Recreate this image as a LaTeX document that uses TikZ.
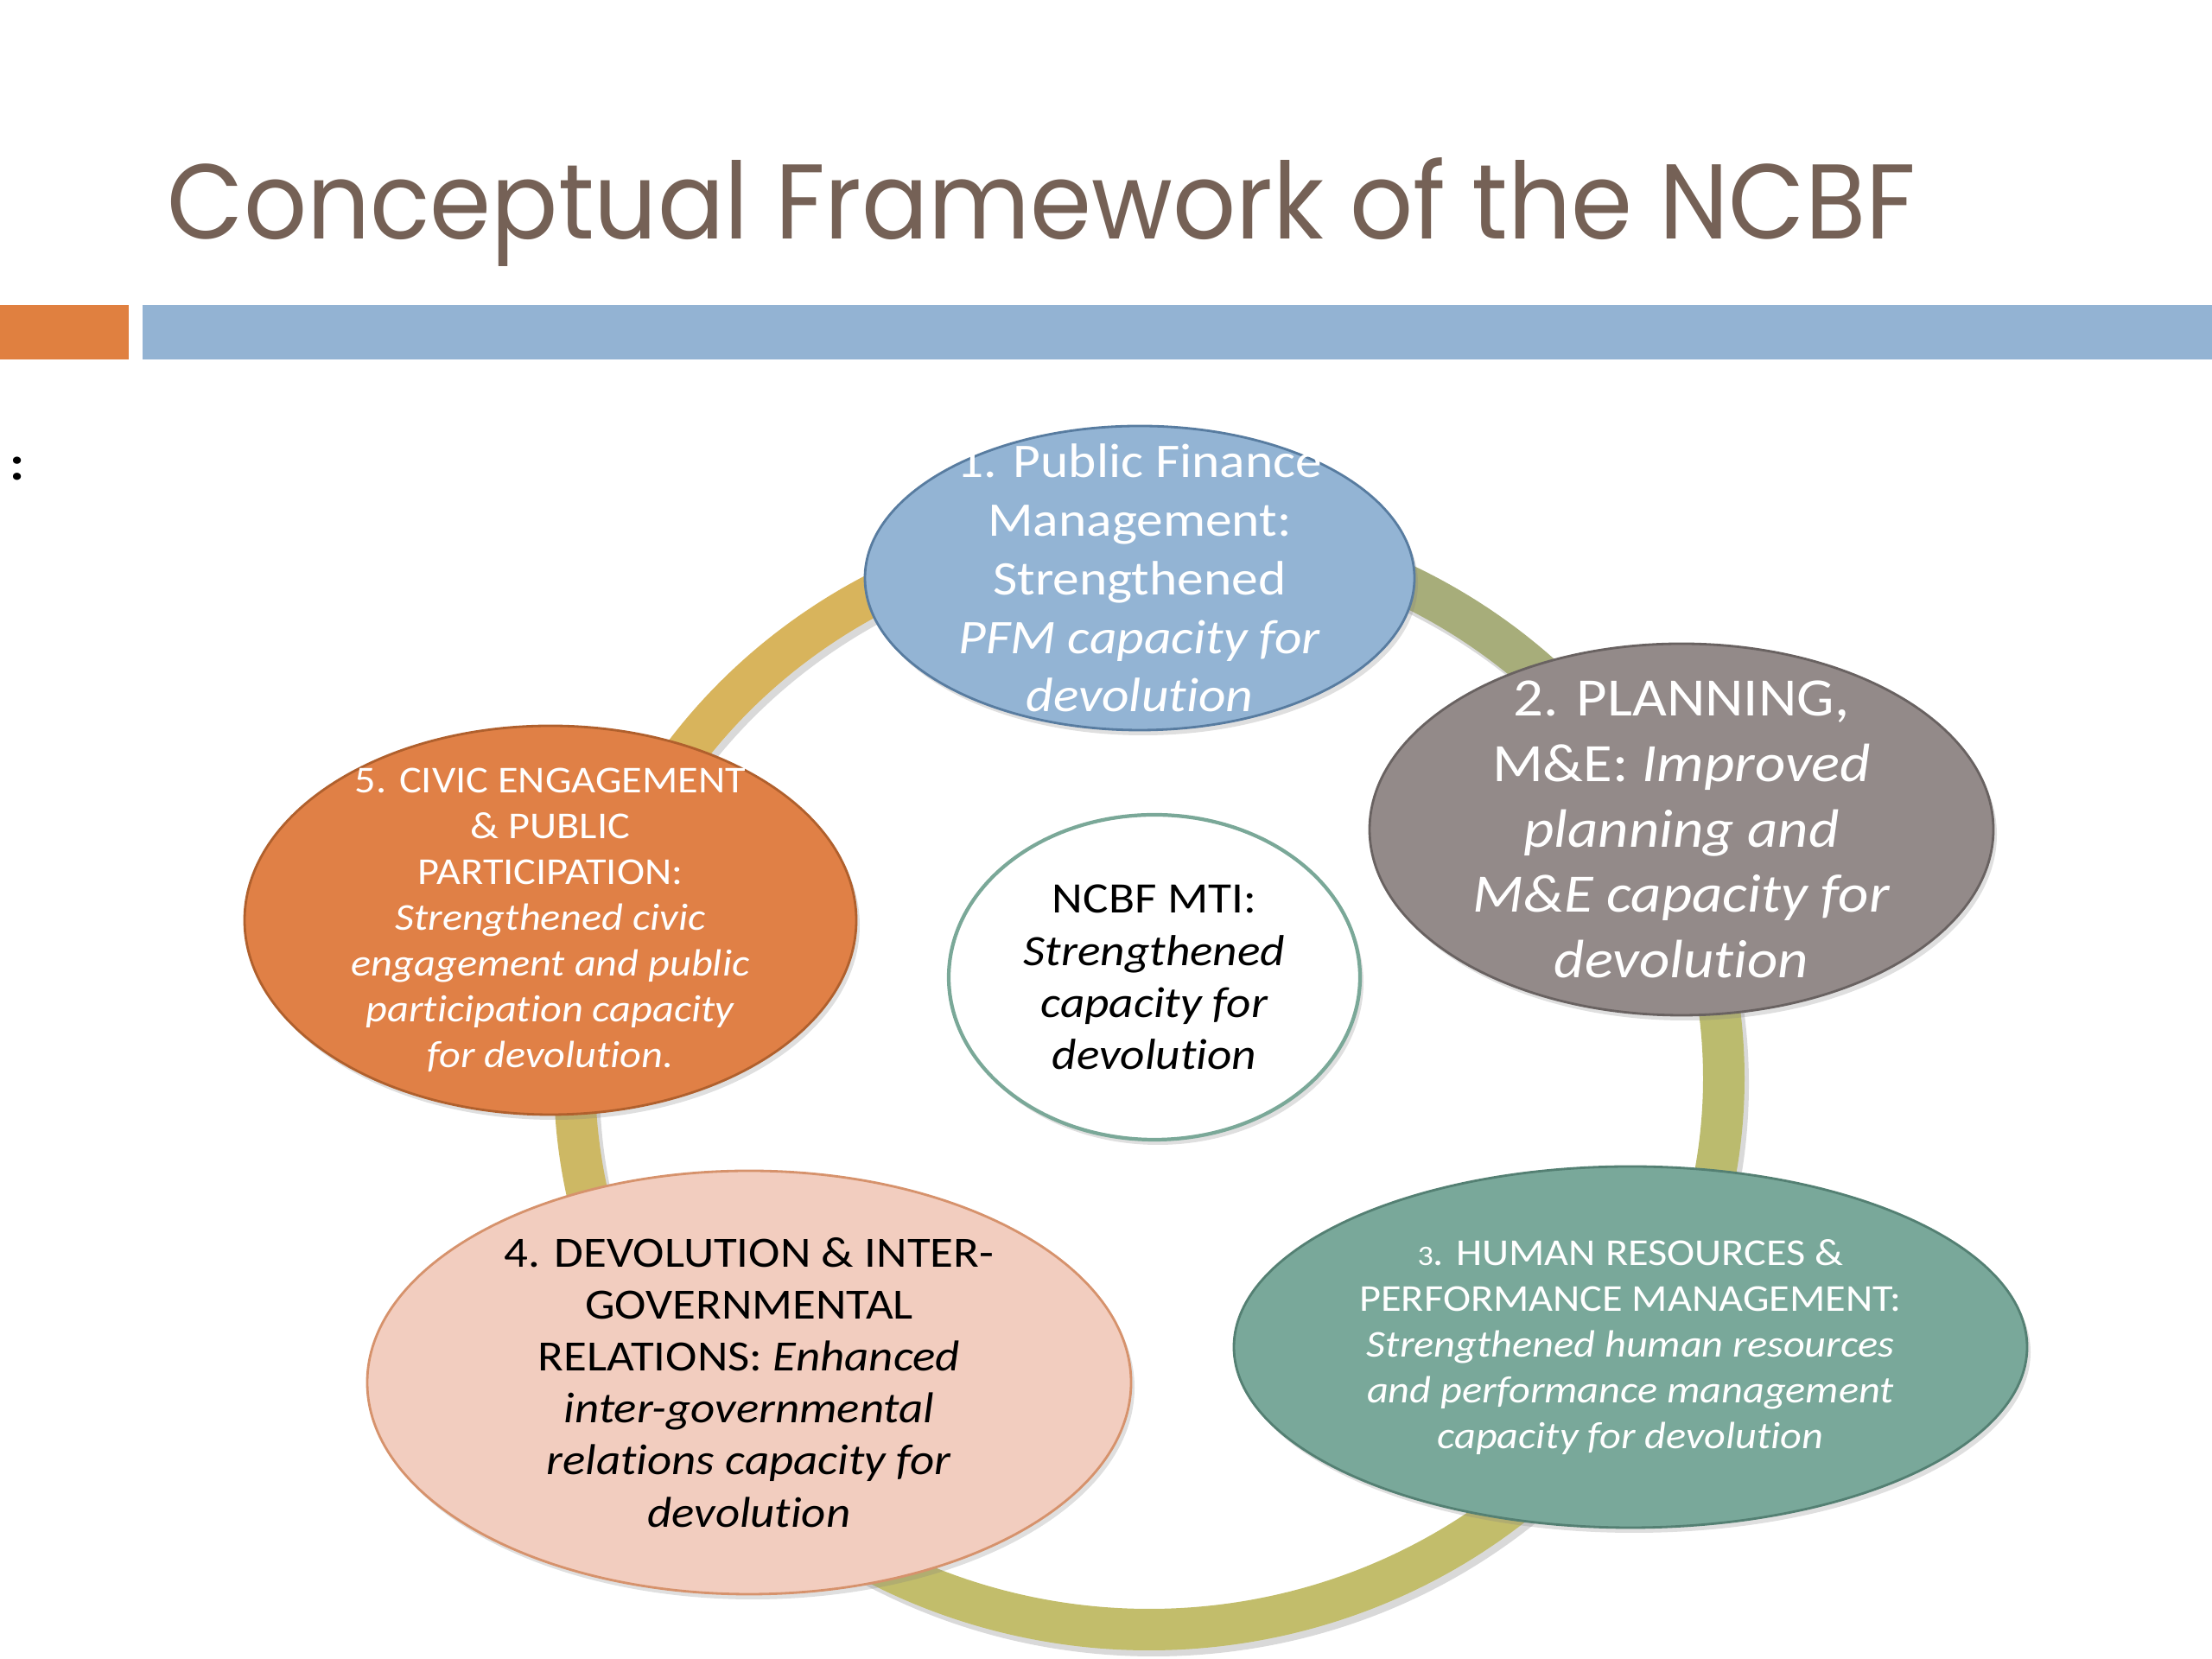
\documentclass[tikz,border=0pt]{standalone}
\usepackage{fontspec}
\setmainfont{Carlito}[FakeStretch=1.1, Ligatures=NoCommon, RawFeature={-calt;-clig}]
\newfontfamily\titlefont[FakeStretch=0.93]{Poppins}
\usetikzlibrary{shapes.geometric,shadows}

\definecolor{titlebrown}{RGB}{117,97,86}
\definecolor{barorange}{RGB}{224,128,64}
\definecolor{barblue}{RGB}{147,179,211}
\definecolor{ringgold}{RGB}{216,180,92}
\definecolor{ringgreen}{RGB}{167,173,122}
\definecolor{ringolive}{RGB}{187,187,110}
\definecolor{ringkhaki}{RGB}{194,189,107}
\definecolor{ringleft}{RGB}{205,184,100}
\definecolor{pfmblue}{RGB}{147,180,212}
\definecolor{pfmedge}{RGB}{88,124,160}
\definecolor{plangray}{RGB}{147,138,137}
\definecolor{planedge}{RGB}{105,98,97}
\definecolor{hrteal}{RGB}{121,168,154}
\definecolor{hredge}{RGB}{84,128,115}
\definecolor{igrpink}{RGB}{242,205,191}
\definecolor{igredge}{RGB}{214,146,108}
\definecolor{civicorange}{RGB}{224,128,70}
\definecolor{civicedge}{RGB}{176,96,45}
\definecolor{mtiedge}{RGB}{122,168,152}

\tikzset{
  goal/.style={ellipse, draw, line width=0.8pt, inner sep=0pt,
    drop shadow={opacity=0.25, shadow xshift=0.04cm, shadow yshift=-0.06cm}},
  goaltext/.style={align=center, inner sep=0pt},
  band/.style={line width=0.48cm},
}

\begin{document}
\begin{tikzpicture}
    \useasboundingbox (0,0) rectangle (25.6,19.2);

    % heading and bars
    \node[anchor=base west, inner sep=0pt, text=titlebrown, font=\titlefont\fontsize{35}{40}\selectfont] (title) at (1.93,16.43) {Conceptual Framework of the NCBF};
    \fill[barorange] (0,15.04) rectangle (1.49,15.67);
    \fill[barblue] (1.65,15.04) rectangle (25.6,15.67);
    \node[font=\bfseries\fontsize{16}{18}\selectfont] (colon) at (0.2,13.78) {:};

    % the ring behind the goals
    \coordinate (ring) at (13.30,6.72);
    \draw[band, black, opacity=0.15] ([shift={(0.05,-0.07)}]ring) ellipse [x radius=6.65, y radius=6.38];
    \draw[band, ringgold] ([shift={(165:6.65 and 6.38)}]ring) arc[start angle=165, end angle=90, x radius=6.65, y radius=6.38];
    \draw[band, ringgreen] ([shift={(90:6.65 and 6.38)}]ring) arc[start angle=90, end angle=25, x radius=6.65, y radius=6.38];
    \draw[band, ringolive] ([shift={(25:6.65 and 6.38)}]ring) arc[start angle=25, end angle=-29, x radius=6.65, y radius=6.38];
    \draw[band, ringkhaki] ([shift={(-29:6.65 and 6.38)}]ring) arc[start angle=-29, end angle=-143, x radius=6.65, y radius=6.38];
    \draw[band, ringleft] ([shift={(-143:6.65 and 6.38)}]ring) arc[start angle=-143, end angle=-195, x radius=6.65, y radius=6.38];

    % 1. PFM
    \node[goal, fill=pfmblue, draw=pfmedge, minimum width=6.36cm, minimum height=3.52cm] (pfm) at (13.19,12.51) {};
    \node[goaltext, text=white, font=\fontsize{15.9}{19.3}\selectfont] (pfmtext) at (pfm) {1. Public Finance\\Management:\\Strengthened\\\textit{PFM capacity for}\\\textit{devolution}};

    % 2. planning
    \node[goal, fill=plangray, draw=planedge, minimum width=7.22cm, minimum height=4.30cm] (plan) at (19.46,9.60) {};
    \node[goaltext, text=white, font=\fontsize{17.8}{21.6}\selectfont] (plantext) at (plan) {2. PLANNING,\\M\&E: \textit{Improved}\\\textit{planning and}\\\textit{M\&E capacity for}\\\textit{devolution}};

    % 3. human resources
    \node[goal, fill=hrteal, draw=hredge, minimum width=9.18cm, minimum height=4.18cm] (hr) at (18.87,3.61) {};
    \node[goaltext, text=white, font=\fontsize{12.5}{15.1}\selectfont] (hrtext) at (hr) {{\fontsize{9.3}{15.1}\selectfont 3}. HUMAN RESOURCES \&\\PERFORMANCE MANAGEMENT:\\\textit{Strengthened human resources}\\\textit{and performance management}\\\textit{capacity for devolution}};

    % 4. inter-governmental relations
    \node[goal, fill=igrpink, draw=igredge, minimum width=8.84cm, minimum height=4.90cm] (igr) at (8.67,3.20) {};
    \node[goaltext, text=black, font=\fontsize{14.2}{17.1}\selectfont] (igrtext) at (igr) {4. DEVOLUTION \& INTER-\\GOVERNMENTAL\\RELATIONS: \textit{Enhanced}\\\textit{inter-governmental}\\\textit{relations capacity for}\\\textit{devolution}};

    % 5. civic engagement
    \node[goal, fill=civicorange, draw=civicedge, minimum width=7.08cm, minimum height=4.50cm] (civic) at (6.37,8.55) {};
    \node[goaltext, text=white, font=\fontsize{12.5}{15.1}\selectfont] (civictext) at (civic) {5. CIVIC ENGAGEMENT\\\& PUBLIC\\PARTICIPATION:\\\textit{Strengthened civic}\\\textit{engagement and public}\\\textit{participation capacity}\\\textit{for devolution.}};

    % centre
    \node[goal, fill=white, draw=mtiedge, line width=1.2pt, minimum width=4.76cm, minimum height=3.76cm] (mti) at (13.36,7.89) {};
    \node[goaltext, text=black, font=\fontsize{14.3}{17.1}\selectfont] (mtitext) at (mti) {NCBF MTI:\\\textit{Strengthened}\\\textit{capacity for}\\\textit{devolution}};
\end{tikzpicture}
\end{document}
